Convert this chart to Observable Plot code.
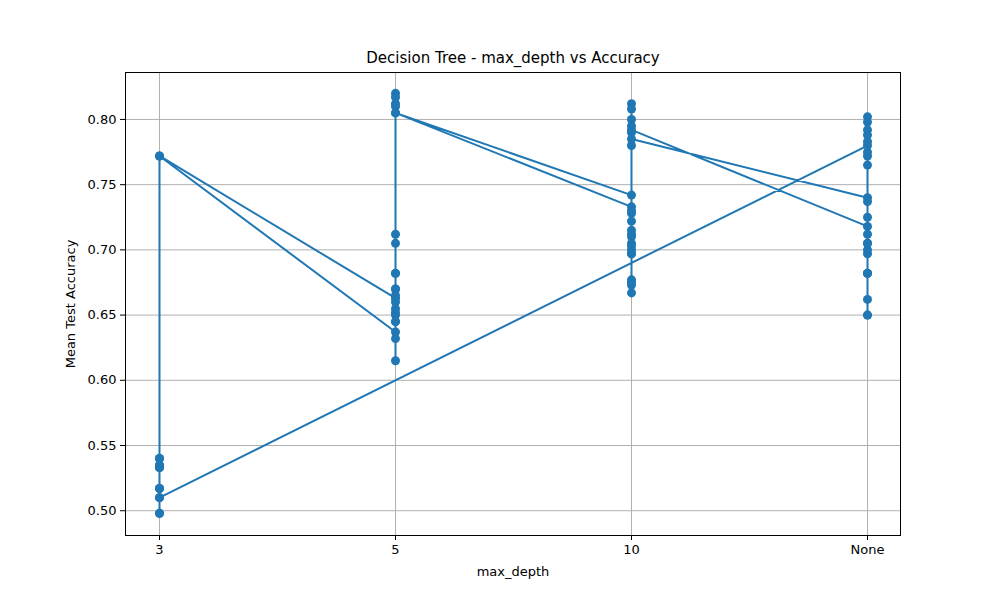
<!DOCTYPE html>
<html>
<head>
<meta charset="utf-8">
<script src="https://cdn.jsdelivr.net/npm/d3@7"></script>
<script src="https://cdn.jsdelivr.net/npm/@observablehq/plot@0.6"></script>
<style>body{margin:0;background:#fff;font-family:"DejaVu Sans",sans-serif;}</style>
</head>
<body>
<div id="chart"></div>
<script>
// category order on the x axis
const depths = ["3", "5", "10", "None"];
const title = "Decision Tree - max_depth vs Accuracy";

// grid search results, in run order (criterion gini, then entropy)
const giniD3 = [0.533, 0.498, 0.51, 0.517, 0.535, 0.54, 0.772];
const giniD5 = [0.663, 0.67, 0.682, 0.655, 0.65, 0.615, 0.645, 0.66, 0.712, 0.82, 0.812, 0.805];
const giniD10 = [0.733, 0.728, 0.715, 0.705, 0.697, 0.677, 0.667, 0.7, 0.722, 0.812, 0.8, 0.78, 0.792];
const giniDNone = [0.718, 0.712, 0.7, 0.682, 0.65, 0.662, 0.697, 0.725, 0.765, 0.802, 0.788, 0.772, 0.78];
const entD3 = [0.51, 0.498, 0.517, 0.533, 0.535, 0.54, 0.772];
const entD5 = [0.637, 0.632, 0.665, 0.645, 0.652, 0.67, 0.682, 0.705, 0.817, 0.81, 0.805];
const entD10 = [0.742, 0.73, 0.712, 0.703, 0.697, 0.673, 0.675, 0.71, 0.808, 0.795, 0.79, 0.785];
const entDNone = [0.74, 0.737, 0.705, 0.682, 0.65, 0.682, 0.705, 0.798, 0.792, 0.783, 0.775];

const blocks = [
  ["3", giniD3], ["5", giniD5], ["10", giniD10], ["None", giniDNone],
  ["3", entD3], ["5", entD5], ["10", entD10], ["None", entDNone]
];
const data = blocks.flatMap(([d, vals]) => vals.map(v => ({depth: d, acc: v})));

const chart = Plot.plot({
  width: 1000,
  height: 600,
  marginTop: 72,
  marginBottom: 65,
  marginLeft: 125,
  marginRight: 100,
  style: {fontSize: "13px", fontFamily: "DejaVu Sans, sans-serif", color: "#000"},
  x: {type: "point", domain: depths, padding: 0.14, label: "max_depth", labelAnchor: "center", labelOffset: 40, tickSize: 5, labelArrow: false},
  y: {domain: [0.481, 0.836], ticks: d3.range(0.5, 0.8001, 0.05), tickFormat: d3.format(".2f"),
      label: "Mean Test Accuracy", labelAnchor: "center", labelOffset: 60, tickSize: 5, labelArrow: false},
  marks: [
    Plot.gridX(depths, {stroke: "#b0b0b0", strokeOpacity: 1}),
    Plot.gridY(d3.range(0.5, 0.8001, 0.05), {stroke: "#b0b0b0", strokeOpacity: 1}),
    Plot.line(data, {x: "depth", y: "acc", stroke: "#1f77b4", strokeWidth: 2}),
    Plot.dot(data, {x: "depth", y: "acc", fill: "#1f77b4", r: 4.5}),
    Plot.frame({stroke: "#000"}),
    Plot.text([title], {frameAnchor: "top", dy: -20, fontSize: 15, fill: "#000"})
  ]
});
document.getElementById("chart").append(chart);
</script>
</body>
</html>
